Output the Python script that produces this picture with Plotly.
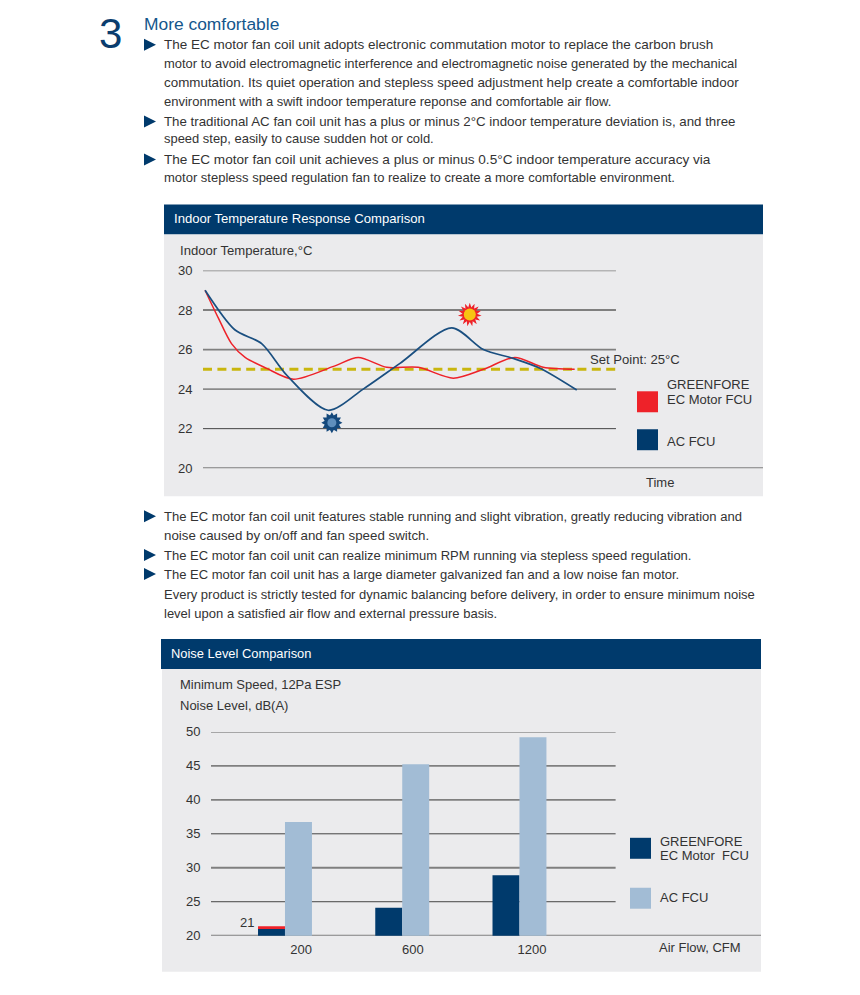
import plotly.graph_objects as go

W, H = 860, 995

# ---------- data ----------
ac_t = [0.5, 7.7, 14.2, 20.3, 30.3, 38.8, 47.7, 60.2, 67.9, 75.1, 81.6, 90.5]
ac_temp = [29, 27, 26.3, 24.7, 22.93, 24, 25.3, 27.1, 26, 25.55, 25.05, 23.95]
ec_t = [0.5, 3.7, 6.9, 10.2, 15.4, 21.9, 31.6, 37.6, 44.5, 52.1, 60.6, 67.9, 75.5, 82.4, 90]
ec_temp = [29, 27.6, 26.3, 25.6, 25.05, 24.5, 25.15, 25.6, 25.1, 25.1, 24.55, 25, 25.6, 25.1, 25]
set_point = [25, 25]
set_point_t = [0, 100]
temp_ticks = [20, 22, 24, 26, 28, 30]

categories = ["200", "600", "1200"]
ec_noise = [21, 24.1, 28.9]
ac_noise = [36.75, 45.25, 49.2]
red_cap_base = [21]
red_cap_height = [0.4]
noise_ticks = [20, 25, 30, 35, 40, 45, 50]

block1 = [
    "The EC motor fan coil unit adopts electronic commutation motor to replace the carbon brush",
    "motor to avoid electromagnetic interference and electromagnetic noise generated by the mechanical",
    "commutation. Its quiet operation and stepless speed adjustment help create a comfortable indoor",
    "environment with a swift indoor temperature reponse and comfortable air flow.",
    "The traditional AC fan coil unit has a plus or minus 2°C indoor temperature deviation is, and three",
    "speed step, easily to cause sudden hot or cold.",
    "The EC motor fan coil unit achieves a plus or minus 0.5°C indoor temperature accuracy via",
    "motor stepless speed regulation fan to realize to create a more comfortable environment.",
]
block1_y = [44, 63, 82, 101, 121, 138, 159, 177]
block1_size = [13.5, 12.95, 13.4, 13.0, 13.3, 12.95, 13.6, 13.0]
block2 = [
    "The EC motor fan coil unit features stable running and slight vibration, greatly reducing vibration and",
    "noise caused by on/off and fan speed switch.",
    "The EC motor fan coil unit can realize minimum RPM running via stepless speed regulation.",
    "The EC motor fan coil unit has a large diameter galvanized fan and a low noise fan motor.",
    "Every product is strictly tested for dynamic balancing before delivery, in order to ensure minimum noise",
    "level upon a satisfied air flow and external pressure basis.",
]
block2_y = [516, 535, 555, 574, 594, 613]
block2_size = [13.05, 13.3, 13.0, 13.0, 13.0, 13.0]
bullet_y = [44, 121, 159, 516, 555, 574]

# ---------- styles ----------
FONT = "Liberation Sans"
NAVY = "#003a6c"
PANEL = "#ebebed"
TXT = "#333333"
RED = "#ee2229"
LINE_BLUE = "#1a4f80"
LIGHT = "#a2bcd5"
GRID_HEAVY = "#7f7f7f"
GRID_THIN = "#444444"


def fx(p):
    return (p - 8) / W


def fy(p):
    return 1 - ((p - 14.3) / 0.986) / H


shapes, notes = [], []


def rect(x0, y0, x1, y1, color):
    shapes.append(dict(type="rect", xref="paper", yref="paper", x0=fx(x0), x1=fx(x1),
                       y0=fy(y1), y1=fy(y0), fillcolor=color, line_width=0, layer="below"))


def note(x, y, text, size=13, color=TXT, anchor="left"):
    notes.append(dict(xref="paper", yref="paper", x=fx(x - 1.3), y=fy(y), text=text, showarrow=False,
                      xanchor=anchor, yanchor="middle", align="left", borderpad=0,
                      font=dict(family=FONT, size=size, color=color)))


note(99, 33, "3", 42, "#0b3d6e")
note(144, 23, "More comfortable", 17.4, "#14568c")
for t, y, s in zip(block1, block1_y, block1_size):
    note(164, y, t, s)
for t, y, s in zip(block2, block2_y, block2_size):
    note(164, y, t, s)
for y in bullet_y:
    shapes.append(dict(type="path", xref="paper", yref="paper",
                       path=f"M {fx(144)} {fy(y-6)} L {fx(156)} {fy(y)} L {fx(144)} {fy(y+6)} Z",
                       fillcolor=NAVY, line_width=0))

# panels
rect(164, 204, 763, 234, NAVY)
rect(164, 234, 763, 496, PANEL)
rect(161, 639, 761, 669, NAVY)
rect(162, 669, 761, 972, PANEL)

note(174, 218, "Indoor Temperature Response Comparison", 13.1, "white")
note(171, 653, "Noise Level Comparison", 12.9, "white")
note(180, 250, "Indoor Temperature,°C", 13.1)
note(590, 359, "Set Point: 25°C", 13.1)
note(667, 384, "GREENFORE", 13)
note(667, 399, "EC Motor FCU", 13)
note(667, 441, "AC FCU", 13)
note(646, 482, "Time", 13)
rect(637, 391, 658, 412, RED)
rect(637, 429, 658, 450, NAVY)

note(180, 685, "Minimum Speed, 12Pa ESP", 13)
note(180, 706, "Noise Level, dB(A)", 13)
note(660, 842, "GREENFORE", 13)
note(660, 856, "EC Motor  FCU", 13)
note(660, 898, "AC FCU", 13)
note(659, 948, "Air Flow, CFM", 13)
rect(630, 838, 651, 859, NAVY)
rect(630, 888, 651, 909, LIGHT)

# grid lines
for v in temp_ticks:
    heavy = v in (20, 26, 28, 30)
    shapes.append(dict(type="line", xref="x", yref="y", x0=0, x1=135.6 if v == 20 else 100, y0=v, y1=v,
                       line=dict(color=GRID_HEAVY if heavy else GRID_THIN, width=1.8 if heavy else 1),
                       layer="below"))
for v in noise_ticks:
    heavy = v in (20, 30, 40, 45)
    shapes.append(dict(type="line", xref="x2", yref="y2", x0=-0.631, x1=4.06 if v == 20 else 2.82, y0=v, y1=v,
                       line=dict(color=GRID_HEAVY if heavy else GRID_THIN, width=1.8 if heavy else 1),
                       layer="below"))

fig = go.Figure()
fig.add_trace(go.Scatter(x=set_point_t, y=set_point, mode="lines", xaxis="x", yaxis="y",
                         line=dict(color="#c9b60e", width=3, dash="9px 5.4px")))
fig.add_trace(go.Scatter(x=ec_t, y=ec_temp, mode="lines", xaxis="x", yaxis="y",
                         line=dict(color=RED, width=1.5, shape="spline", smoothing=0.8)))
fig.add_trace(go.Scatter(x=ac_t, y=ac_temp, mode="lines", xaxis="x", yaxis="y",
                         line=dict(color=LINE_BLUE, width=1.7, shape="spline", smoothing=0.8)))

# sun and snowflake
for ang in (0, 24, 48):
    fig.add_trace(go.Scatter(x=[64.6], y=[27.77], mode="markers", xaxis="x", yaxis="y",
                             marker=dict(symbol="star", size=17, color=RED, angle=ang, line_width=0)))
fig.add_trace(go.Scatter(x=[64.6], y=[27.77], mode="markers", xaxis="x", yaxis="y",
                         marker=dict(symbol="circle", size=12, color="#f7c412", line_width=0)))
for ang in (0, 30):
    fig.add_trace(go.Scatter(x=[31.2], y=[22.3], mode="markers", xaxis="x", yaxis="y",
                             marker=dict(symbol="hexagram", size=16, color="#15497c", angle=ang, line_width=0)))
fig.add_trace(go.Scatter(x=[31.2], y=[22.3], mode="markers", xaxis="x", yaxis="y",
                         marker=dict(symbol="circle", size=9, color="#5f8fbd", line_width=0)))

# bars
BW = 0.23
fig.add_trace(go.Bar(x=[0, 1, 2], y=ec_noise, xaxis="x2", yaxis="y2", width=BW, offset=-BW,
                     marker=dict(color=NAVY, line_width=0)))
fig.add_trace(go.Bar(x=[0, 1, 2], y=ac_noise, xaxis="x2", yaxis="y2", width=BW, offset=0,
                     marker=dict(color=LIGHT, line_width=0)))
fig.add_trace(go.Bar(x=[0], y=red_cap_height, base=red_cap_base, xaxis="x2", yaxis="y2", width=BW, offset=-BW,
                     marker=dict(color=RED, line_width=0)))
notes.append(dict(xref="x2", yref="y2", x=-0.23, y=22.0, text="21", showarrow=False, xanchor="right",
                  yanchor="middle", xshift=-2, font=dict(family=FONT, size=13, color=TXT)))

tickfont = dict(family=FONT, size=13, color=TXT)
fig.update_layout(
    width=W, height=H, margin=dict(l=0, r=0, t=0, b=0), autosize=False,
    paper_bgcolor="white", plot_bgcolor="rgba(0,0,0,0)", showlegend=False, barmode="overlay",
    shapes=shapes, annotations=notes, hovermode=False,
    xaxis=dict(domain=[fx(203), fx(763)], range=[0, 135.6], visible=False),
    yaxis=dict(domain=[fy(468), fy(270)], range=[20, 30], tickvals=temp_ticks, showgrid=False, zeroline=False,
               showline=False, ticks="outside", ticklen=7, tickcolor="rgba(0,0,0,0)", tickfont=tickfont),
    xaxis2=dict(domain=[fx(211), fx(761)], range=[-0.631, 4.06], anchor="y2", showgrid=False, zeroline=False,
                showline=False, tickvals=[0.137, 1.09, 2.107], ticktext=categories, ticks="outside", ticklen=2,
                tickcolor="rgba(0,0,0,0)", tickfont=tickfont),
    yaxis2=dict(domain=[fy(936), fy(732)], range=[20, 50], anchor="x2", tickvals=noise_ticks, showgrid=False,
                zeroline=False, showline=False, ticks="outside", ticklen=7, tickcolor="rgba(0,0,0,0)",
                tickfont=tickfont),
)
fig.write_html("out.html")
